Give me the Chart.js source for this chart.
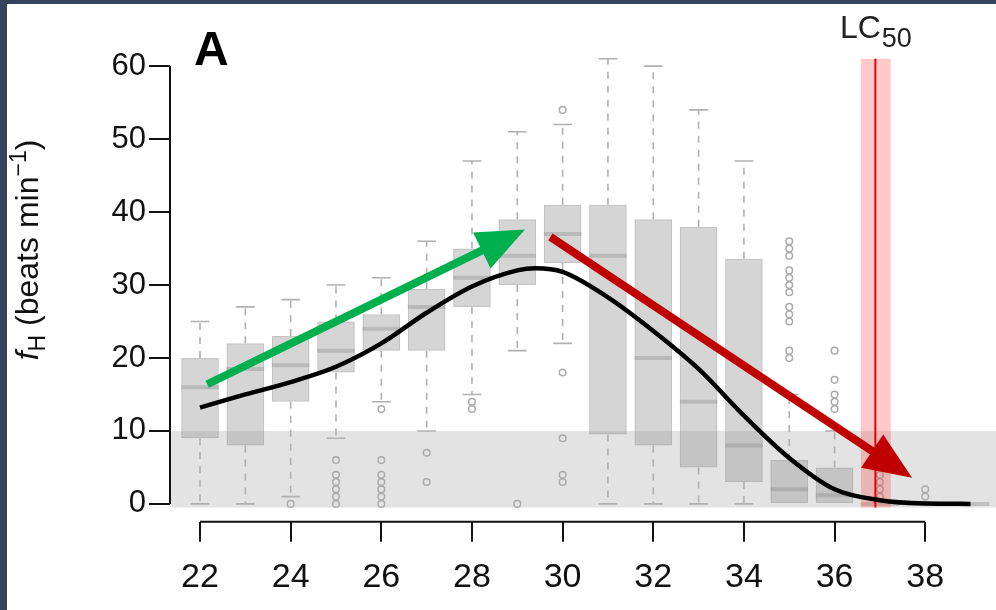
<!DOCTYPE html>
<html lang="en">
<head>
<meta charset="UTF-8">
<title>fH vs temperature</title>
<script src="https://cdn.jsdelivr.net/npm/chart.js"></script>
<style>
    html, body {
        margin: 0;
        padding: 0;
        background: #36435c;
        width: 996px;
        height: 610px;
        overflow: hidden;
    }
    .panel {
        position: absolute;
        left: 7px;
        top: 4px;
        width: 989px;
        height: 606px;
        background: #fff;
    }
</style>
</head>
<body>
<div class="panel">
    <canvas id="chart"></canvas>
</div>

<script>
    // temperature groups (°C)
    const temps = [22, 23, 24, 25, 26, 27, 28, 29, 30, 31, 32, 33, 34, 35, 36, 37, 38, 39];
    // box plot statistics, one per temperature
    const whiskLow = [0, 0, 1, 9, 14, 10, 15, 21, 22, 0, 0, 0, 0, 0, 0, 0, 0, 0];
    const boxLow   = [9, 8, 14, 18, 21, 21, 27, 30, 33, 9.5, 8, 5, 3, 0, 0, 0, 0, 0];
    const medians  = [16, 18.5, 19, 21, 24, 27, 31, 34, 37, 34, 20, 14, 8, 2, 1.2, 0, 0, 0];
    const boxHigh  = [20, 22, 23, 25, 26, 29.5, 35, 39, 41, 41, 39, 38, 33.6, 6, 5, 0, 0, 0];
    const whiskHigh = [25, 27, 28, 30, 31, 36, 47, 51, 52, 61, 60, 54, 47, 15, 10, 0, 0, 0];
    const outliers = [
        [], [], [0], [6, 4, 3, 2, 1, 0], [13, 6, 4, 3, 2, 1, 0], [7, 3], [14, 13], [0],
        [54, 18, 9, 4, 3], [], [], [], [],
        [36, 35, 34, 32, 31, 30, 29, 27, 26, 25, 21, 20],
        [21, 17, 15, 14, 13], [4, 3, 2, 1], [2, 1], []
    ];

    // fitted curve
    const curveX = [22, 23, 24, 25, 26, 27, 28, 29, 29.4, 30, 31, 32, 33, 34, 35, 36, 37, 38, 39];
    const curveY = [13.2, 15.0, 16.7, 18.8, 22.0, 26.2, 29.8, 32.0, 32.3, 31.8, 28.3, 23.7, 18.5, 12.1, 6.3, 2.0, 0.5, 0.05, 0];

    // shaded low-rate band and LC50
    const lowBand = [-0.5, 10];
    const lc50 = 36.9;
    const lc50Range = [36.58, 37.24];
    const lc50Top = 61;

    // trend arrows [x, y] start -> tip
    const greenArrow = [[22.16, 16.4], [29.17, 37.6]];
    const redArrow = [[29.73, 36.6], [37.71, 3.6]];

    const xTicks = [22, 24, 26, 28, 30, 32, 34, 36, 38];
    const yTicks = [0, 10, 20, 30, 40, 50, 60];

    const FONT = "'Liberation Sans', Arial, sans-serif";

    const outlierPoints = [];
    temps.forEach((t, i) => outliers[i].forEach(v => outlierPoints.push({ x: t, y: v })));

    function arrow(ctx, x, y, pts, color) {
        const x0 = x.getPixelForValue(pts[0][0]), y0 = y.getPixelForValue(pts[0][1]);
        const x1 = x.getPixelForValue(pts[1][0]), y1 = y.getPixelForValue(pts[1][1]);
        const len = Math.hypot(x1 - x0, y1 - y0);
        const ux = (x1 - x0) / len, uy = (y1 - y0) / len;
        const head = 48, half = 20;
        ctx.save();
        ctx.strokeStyle = color;
        ctx.fillStyle = color;
        ctx.lineWidth = 8;
        ctx.beginPath();
        ctx.moveTo(x0, y0);
        ctx.lineTo(x1 - ux * head * 0.6, y1 - uy * head * 0.6);
        ctx.stroke();
        ctx.beginPath();
        ctx.moveTo(x1, y1);
        ctx.lineTo(x1 - ux * head - uy * half, y1 - uy * head + ux * half);
        ctx.lineTo(x1 - ux * head + uy * half, y1 - uy * head - ux * half);
        ctx.closePath();
        ctx.fill();
        ctx.restore();
    }

    const overlay = {
        id: 'overlay',
        beforeDatasetsDraw(chart) {
            const { ctx, chartArea: a, scales: { y } } = chart;
            const top = y.getPixelForValue(lowBand[1]), bot = y.getPixelForValue(lowBand[0]);
            ctx.save();
            ctx.fillStyle = '#e3e3e3';
            ctx.fillRect(a.left, top, chart.width - a.left, bot - top);
            ctx.restore();
        },
        beforeDatasetDraw(chart, args) {
            if (args.index !== 0) return;
            const { ctx, scales: { x, y } } = chart;
            const l = x.getPixelForValue(lc50Range[0]), r = x.getPixelForValue(lc50Range[1]);
            const top = y.getPixelForValue(lc50Top), bot = y.getPixelForValue(lowBand[0]);
            ctx.save();
            ctx.fillStyle = 'rgba(255, 60, 60, 0.28)';
            ctx.fillRect(l, top, r - l, bot - top);
            ctx.strokeStyle = '#e3000f';
            ctx.lineWidth = 2;
            const xc = x.getPixelForValue(lc50);
            ctx.beginPath();
            ctx.moveTo(xc, top);
            ctx.lineTo(xc, bot);
            ctx.stroke();
            ctx.restore();
        },
        afterDatasetDraw(chart, args) {
            if (args.index !== 2) return;
            const { ctx, scales: { y } } = chart;
            ctx.save();
            args.meta.data.forEach((bar, i) => {
                const cx = bar.x, w = bar.width;
                const cap = w * 0.25;
                const yq1 = y.getPixelForValue(boxLow[i]), yq3 = y.getPixelForValue(boxHigh[i]);
                const ylo = y.getPixelForValue(whiskLow[i]), yhi = y.getPixelForValue(whiskHigh[i]);
                ctx.strokeStyle = '#b0b0b0';
                ctx.lineWidth = 1.6;
                ctx.setLineDash([7, 7]);
                ctx.beginPath();
                if (whiskHigh[i] > boxHigh[i]) { ctx.moveTo(cx, yq3); ctx.lineTo(cx, yhi); }
                if (whiskLow[i] < boxLow[i]) { ctx.moveTo(cx, yq1); ctx.lineTo(cx, ylo); }
                ctx.stroke();
                ctx.setLineDash([]);
                ctx.beginPath();
                if (whiskHigh[i] > boxHigh[i]) { ctx.moveTo(cx - cap, yhi); ctx.lineTo(cx + cap, yhi); }
                if (whiskLow[i] < boxLow[i]) { ctx.moveTo(cx - cap, ylo); ctx.lineTo(cx + cap, ylo); }
                ctx.stroke();
                // median
                const ym = y.getPixelForValue(medians[i]);
                ctx.strokeStyle = 'rgba(140, 140, 140, 0.38)';
                ctx.lineWidth = 4;
                ctx.beginPath();
                ctx.moveTo(cx - w / 2, ym);
                ctx.lineTo(cx + w / 2, ym);
                ctx.stroke();
            });
            ctx.restore();
        },
        afterDatasetsDraw(chart) {
            const { ctx, chartArea: a, scales: { x, y } } = chart;
            arrow(ctx, x, y, greenArrow, '#00b04f');
            arrow(ctx, x, y, redArrow, '#c00000');

            // R-style axis lines, first to last tick
            ctx.save();
            ctx.strokeStyle = '#111';
            ctx.lineWidth = 2;
            ctx.beginPath();
            ctx.moveTo(a.left, y.getPixelForValue(yTicks[0]));
            ctx.lineTo(a.left, y.getPixelForValue(yTicks[yTicks.length - 1]));
            ctx.moveTo(x.getPixelForValue(xTicks[0]), a.bottom);
            ctx.lineTo(x.getPixelForValue(xTicks[xTicks.length - 1]), a.bottom);
            ctx.stroke();

            // panel letter
            ctx.fillStyle = '#000';
            ctx.font = 'bold 48px ' + FONT;
            ctx.textBaseline = 'alphabetic';
            ctx.textAlign = 'left';
            ctx.fillText('A', a.left + 24, y.getPixelForValue(60) - 1);

            // LC50 label
            ctx.fillStyle = '#222';
            ctx.font = '32px ' + FONT;
            const wLC = ctx.measureText('LC').width;
            ctx.font = '27px ' + FONT;
            const w50 = ctx.measureText('50').width;
            const lx = x.getPixelForValue(lc50) - (wLC + w50) / 2;
            ctx.font = '32px ' + FONT;
            ctx.fillText('LC', lx, 34);
            ctx.font = '27px ' + FONT;
            ctx.fillText('50', lx + wLC + 1, 43);

            // y-axis title
            const parts = [
                { t: 'f', f: 'italic 32px ' + FONT, dy: 0 },
                { t: 'H', f: '23px ' + FONT, dy: 7 },
                { t: ' (beats min', f: '32px ' + FONT, dy: 0 },
                { t: '\u22121', f: '23px ' + FONT, dy: -12 },
                { t: ')', f: '32px ' + FONT, dy: 0 }
            ];
            let total = 0;
            parts.forEach(p => { ctx.font = p.f; p.w = ctx.measureText(p.t).width; total += p.w; });
            ctx.translate(31, 246);
            ctx.rotate(-Math.PI / 2);
            ctx.fillStyle = '#111';
            let px = -total / 2;
            parts.forEach(p => { ctx.font = p.f; ctx.fillText(p.t, px, p.dy); px += p.w; });
            ctx.restore();
        }
    };

    new Chart(document.getElementById('chart'), {
        data: {
            datasets: [
                {
                    type: 'line',
                    data: curveX.map((v, i) => ({ x: v, y: curveY[i] })),
                    borderColor: '#000',
                    borderWidth: 4.5,
                    pointRadius: 0,
                    cubicInterpolationMode: 'monotone',
                    order: 0
                },
                {
                    type: 'scatter',
                    data: outlierPoints,
                    pointStyle: 'circle',
                    pointRadius: 3.3,
                    borderColor: '#ababab',
                    borderWidth: 1.5,
                    backgroundColor: 'rgba(0,0,0,0)',
                    order: 1
                },
                {
                    type: 'bar',
                    data: temps.map((t, i) => ({ x: t, y: [boxLow[i], boxHigh[i]] })),
                    backgroundColor: 'rgba(150, 150, 150, 0.4)',
                    borderColor: 'rgba(150, 150, 150, 0.55)',
                    borderWidth: 1.5,
                    borderSkipped: false,
                    barPercentage: 0.83,
                    categoryPercentage: 1,
                    order: 2
                }
            ]
        },
        options: {
            responsive: true,
            maintainAspectRatio: false,
            animation: false,
            layout: { padding: { top: 37, right: 0, left: 0, bottom: 0 } },
            plugins: {
                legend: { display: false },
                tooltip: { enabled: false }
            },
            scales: {
                x: {
                    type: 'linear',
                    offset: false,
                    min: 21.338,
                    max: 39.44,
                    afterBuildTicks: s => { s.ticks = xTicks.map(v => ({ value: v })); },
                    afterFit: s => { s.height = 88.3; },
                    border: { display: false },
                    grid: { offset: false, drawOnChartArea: false, drawTicks: true, tickLength: 20, color: '#111', lineWidth: 2 },
                    ticks: {
                        autoSkip: false,
                        maxRotation: 0,
                        padding: 16,
                        color: '#111',
                        font: { family: FONT, size: 34 }
                    }
                },
                y: {
                    min: -2.44,
                    max: 63.44,
                    afterBuildTicks: s => { s.ticks = yTicks.map(v => ({ value: v })); },
                    afterFit: s => { s.width = 163; },
                    border: { display: false },
                    grid: { drawOnChartArea: false, drawTicks: true, tickLength: 21, color: '#111', lineWidth: 2 },
                    ticks: {
                        padding: 3,
                        color: '#111',
                        font: { family: FONT, size: 31 }
                    }
                }
            }
        },
        plugins: [overlay]
    });
</script>
</body>
</html>
